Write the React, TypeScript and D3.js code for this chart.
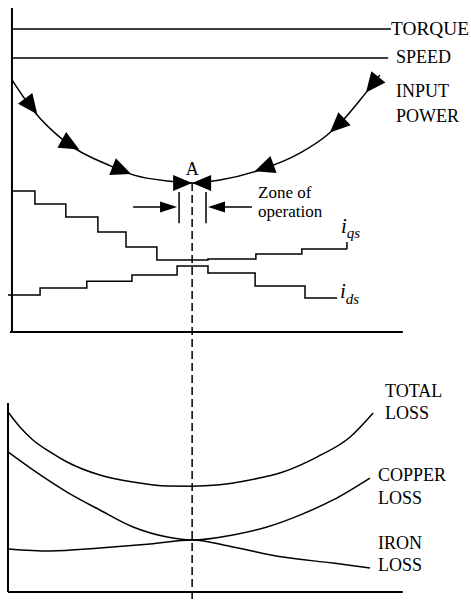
import React from "react";
import * as d3 from "d3";

// ---------- data (x in % of control range, y in relative units) ----------
const torqueLevel = 93.5;
const speedLevel = 84.6;

const inputPowerX = [1.0, 6.3, 14.9, 26.0, 31.6, 40.2, 46.5, 53.5, 63.6, 73.7, 80.6, 84.6, 88.9, 93.9];
const inputPowerY = [77.8, 68.5, 58.3, 51.2, 48.5, 46.6, 46.0, 46.9, 50.0, 55.2, 60.8, 65.4, 71.6, 79.3];
const arrowsDownX = [5.6, 16.2, 29.3];
const arrowsUpX = [64.1, 83.1, 92.2];
const pointA = 46.5;

const iqsSteps = [1.0, 6.8, 14.6, 22.7, 29.8, 37.6, 50.5, 62.6, 74.2, 85.6];
const iqsValues = [43.5, 39.5, 35.5, 30.9, 26.2, 22.2, 22.5, 24.1, 25.6];
const iqsEndTick = 27.8;

const idsSteps = [0.0, 8.1, 19.9, 31.3, 42.7, 50.5, 62.4, 75.0, 83.1];
const idsValues = [11.4, 13.6, 15.7, 17.6, 20.4, 18.2, 14.2, 10.5];

const zoneBounds = [43.2, 50.0];

const totalLossX = [0, 3.0, 6.3, 10.6, 14.9, 23.2, 31.6, 40.2, 46.5, 52.8, 61.1, 69.4, 78.0, 86.4, 92.2];
const totalLossY = [95.2, 87.3, 80.4, 74.1, 68.8, 61.9, 58.2, 56.1, 56.0, 56.6, 59.3, 63.5, 71.4, 82.0, 94.7];
const copperLossX = [0, 6.3, 14.9, 23.2, 31.6, 40.2, 46.5, 56.8, 65.4, 73.7, 82.1, 91.4];
const copperLossY = [74.1, 64.6, 52.9, 43.4, 34.4, 29.1, 27.5, 30.2, 34.4, 40.7, 48.7, 60.3];
const ironLossX = [0, 10.6, 23.2, 35.9, 46.5, 56.8, 69.4, 82.1, 91.4];
const ironLossY = [22.8, 21.7, 23.3, 25.4, 27.5, 23.8, 18.5, 15.3, 12.7];

// ---------- layout ----------
const W = 471;
const H = 601;
const FONT = "'Liberation Serif', 'Times New Roman', serif";

const x = d3.scaleLinear().domain([0, 100]).range([8, 404]);
const yTop = d3.scaleLinear().domain([0, 100]).range([332, 8]);
const yBot = d3.scaleLinear().domain([0, 100]).range([592, 403]);

function stepPath(xs: number[], ys: number[], yS: d3.ScaleLinear<number, number>) {
  const pts: [number, number][] = [];
  ys.forEach((v, i) => {
    pts.push([xs[i], v]);
    pts.push([xs[i + 1], v]);
  });
  return d3.line<[number, number]>().x((d) => x(d[0])).y((d) => yS(d[1]))(pts) || "";
}

function curvePath(xs: number[], ys: number[], yS: d3.ScaleLinear<number, number>) {
  return (
    d3
      .line<number>()
      .x((d) => x(d))
      .y((_, i) => yS(ys[i]))
      .curve(d3.curveMonotoneX)(xs) || ""
  );
}

const powerInterp = d3.scaleLinear().domain(inputPowerX).range(inputPowerY);

function triangle(cx: number, cy: number, angle: number, len: number, half: number, key: string) {
  const ca = Math.cos(angle), sa = Math.sin(angle);
  const bx = cx - ca * len, by = cy - sa * len;
  const p1 = [cx, cy];
  const p2 = [bx - sa * half, by + ca * half];
  const p3 = [bx + sa * half, by - ca * half];
  return <polygon key={key} points={`${p1.join(",")} ${p2.join(",")} ${p3.join(",")}`} fill="#000" />;
}

function curveArrow(v: number, dir: number, key: string) {
  const d = 1.5;
  const x0 = x(v - d), y0 = yTop(powerInterp(v - d));
  const x1 = x(v + d), y1 = yTop(powerInterp(v + d));
  let ang = Math.atan2(y1 - y0, x1 - x0);
  if (dir < 0) ang += Math.PI;
  const tipV = v + dir * 1.8;
  return triangle(x(tipV), yTop(powerInterp(tipV)), ang, 20, 9, key);
}

export default function App() {
  const axisW = 2;
  const lw = 1.5;
  const ax = x(pointA);
  const ay = yTop(powerInterp(pointA));
  const zoneY = yTop(38.6);
  return (
    <svg width={W} height={H} style={{ position: "absolute", left: 0, top: 0, background: "#fff" }}>
      {/* top panel axes */}
      <line x1={x(1)} y1={yTop(100)} x2={x(1)} y2={yTop(0)} stroke="#000" strokeWidth={axisW} />
      <line x1={x(0.5)} y1={yTop(0)} x2={x(99.7)} y2={yTop(0)} stroke="#000" strokeWidth={axisW} />

      {/* torque & speed */}
      <line x1={x(1)} y1={yTop(torqueLevel)} x2={x(96.7)} y2={yTop(torqueLevel)} stroke="#000" strokeWidth={lw} />
      <line x1={x(1)} y1={yTop(speedLevel)} x2={x(96.0)} y2={yTop(speedLevel)} stroke="#000" strokeWidth={lw} />

      {/* input power curve */}
      <path d={curvePath(inputPowerX, inputPowerY, yTop)} fill="none" stroke="#000" strokeWidth={lw} />
      {arrowsDownX.map((v, i) => curveArrow(v, 1, "ad" + i))}
      {arrowsUpX.map((v, i) => curveArrow(v, -1, "au" + i))}
      {triangle(ax, ay, 0, 19, 8, "bl")}
      {triangle(ax, ay, Math.PI, 19, 8, "br")}
      <text x={ax} y={ay - 8} fontFamily={FONT} fontSize={18} textAnchor="middle">A</text>

      {/* zone of operation */}
      {zoneBounds.map((v, i) => (
        <line key={"zb" + i} x1={x(v)} y1={yTop(43.2)} x2={x(v)} y2={yTop(33.6)} stroke="#000" strokeWidth={lw} />
      ))}
      <line x1={x(31.6)} y1={zoneY} x2={x(40)} y2={zoneY} stroke="#000" strokeWidth={lw} />
      {triangle(x(zoneBounds[0]) - 2, zoneY, 0, 17, 5.5, "zl")}
      <line x1={x(61.6)} y1={zoneY} x2={x(53)} y2={zoneY} stroke="#000" strokeWidth={lw} />
      {triangle(x(zoneBounds[1]) + 2, zoneY, Math.PI, 17, 5.5, "zr")}
      <text x={258} y={198} fontFamily={FONT} fontSize={17}>Zone of</text>
      <text x={258} y={217} fontFamily={FONT} fontSize={17}>operation</text>

      {/* iqs and ids */}
      <path d={stepPath(iqsSteps, iqsValues, yTop)} fill="none" stroke="#000" strokeWidth={lw} />
      <line
        x1={x(iqsSteps[iqsSteps.length - 1])}
        y1={yTop(iqsValues[iqsValues.length - 1])}
        x2={x(iqsSteps[iqsSteps.length - 1])}
        y2={yTop(iqsEndTick)}
        stroke="#000"
        strokeWidth={lw}
      />
      <path d={stepPath(idsSteps, idsValues, yTop)} fill="none" stroke="#000" strokeWidth={lw} />

      {/* dashed line through A */}
      <line x1={ax} y1={ay} x2={ax} y2={H} stroke="#000" strokeWidth={1.5} strokeDasharray="8,4" />

      {/* right labels top */}
      <text x={391} y={35} fontFamily={FONT} fontSize={18} textLength={78} lengthAdjust="spacingAndGlyphs">TORQUE</text>
      <text x={396} y={63} fontFamily={FONT} fontSize={18}>SPEED</text>
      <text x={396} y={97} fontFamily={FONT} fontSize={18}>INPUT</text>
      <text x={396} y={122} fontFamily={FONT} fontSize={18}>POWER</text>
      <text x={341} y={233} fontFamily={FONT} fontSize={21} fontStyle="italic">
        i<tspan fontSize={15} dy={5}>qs</tspan>
      </text>
      <text x={340} y={298} fontFamily={FONT} fontSize={21} fontStyle="italic">
        i<tspan fontSize={15} dy={6}>ds</tspan>
      </text>

      {/* bottom panel */}
      <line x1={x(0)} y1={yBot(100)} x2={x(0)} y2={yBot(0)} stroke="#000" strokeWidth={axisW} />
      <line x1={x(0)} y1={yBot(0)} x2={x(99.7)} y2={yBot(0)} stroke="#000" strokeWidth={axisW} />
      <path d={curvePath(totalLossX, totalLossY, yBot)} fill="none" stroke="#000" strokeWidth={lw} />
      <path d={curvePath(copperLossX, copperLossY, yBot)} fill="none" stroke="#000" strokeWidth={lw} />
      <path d={curvePath(ironLossX, ironLossY, yBot)} fill="none" stroke="#000" strokeWidth={lw} />

      <text x={385} y={397} fontFamily={FONT} fontSize={18}>TOTAL</text>
      <text x={385} y={419} fontFamily={FONT} fontSize={18}>LOSS</text>
      <text x={378} y={481} fontFamily={FONT} fontSize={18}>COPPER</text>
      <text x={378} y={504} fontFamily={FONT} fontSize={18}>LOSS</text>
      <text x={378} y={549} fontFamily={FONT} fontSize={18}>IRON</text>
      <text x={378} y={571} fontFamily={FONT} fontSize={18}>LOSS</text>
    </svg>
  );
}
